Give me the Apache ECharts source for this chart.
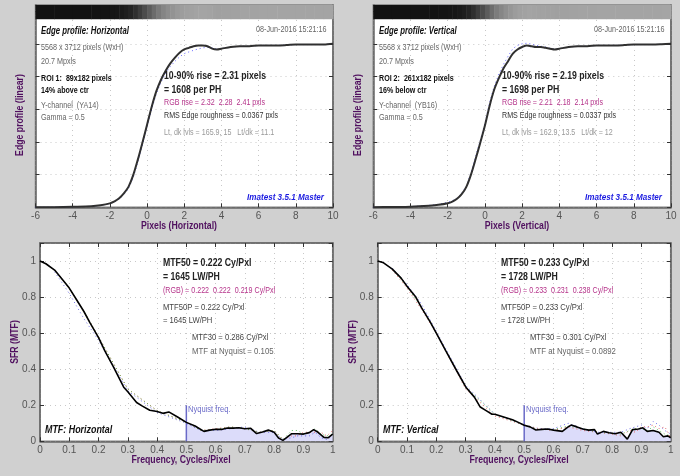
<!DOCTYPE html>
<html>
<head>
<meta charset="utf-8">
<style>html,body{margin:0;padding:0;background:#d0d0d0}#chart{width:680px;height:476px}</style>
<script src="https://cdn.jsdelivr.net/npm/echarts@6/dist/echarts.min.js"></script>
</head>
<body>
<div id="chart"></div>
<script>
// edge profile data
const edgeX = [-6,-5,-4,-3,-2.5,-2,-1.75,-1.5,-1.25,-1,-.75,-.5,-.25,0,.25,.5,.75,1,1.25,1.5,1.75,2,2.25,2.5,2.75,3,3.25,3.5,3.75,4,4.5,5,5.5,6,6.5,7,7.5,8,8.5,9,9.5,10];
const edgeH = [0,.001,.003,.006,.012,.024,.036,.055,.085,.125,.195,.29,.395,.505,.615,.71,.78,.835,.88,.915,.945,.965,.975,.985,.99,.99,.985,.97,.965,.97,.98,.985,.985,.99,.99,.99,.992,.995,.995,.995,.995,1];
const edgeHBlue = [0,.001,.003,.006,.012,.022,.034,.05,.078,.115,.18,.275,.38,.49,.6,.695,.765,.82,.86,.893,.92,.94,.95,.96,.968,.975,.978,.975,.968,.97,.98,.985,.985,.99,.99,.99,.992,.995,.995,.995,.995,1];
const edgeV = [0,.002,.004,.01,.015,.025,.035,.052,.08,.125,.2,.295,.395,.5,.62,.72,.79,.85,.895,.94,.965,.98,.99,.985,.98,.98,.975,.97,.965,.97,.98,.985,.985,.99,.99,.99,.992,.995,.995,.995,.997,1];
const edgeVBlue = [0,.002,.004,.012,.018,.03,.04,.056,.085,.13,.21,.31,.41,.515,.64,.74,.815,.875,.925,.97,.99,1,1.003,.998,.99,.985,.98,.972,.966,.97,.98,.985,.985,.99,.99,.99,.992,.995,.995,.995,.997,1];

// MTF data
const freqH = [0,.02,.05,.08,.1,.125,.15,.17,.2,.222,.25,.286,.3,.33,.35,.375,.4,.42,.44,.47,.5,.53,.56,.58,.6,.62,.64,.66,.68,.7,.72,.74,.76,.78,.8,.815,.83,.85,.86,.88,.9,.92,.935,.95,.97,.985,1];
const mtfH = [1,.985,.95,.89,.85,.785,.72,.66,.575,.5,.415,.3,.275,.215,.195,.172,.165,.155,.163,.135,.105,.085,.055,.062,.067,.066,.074,.073,.075,.07,.072,.043,.052,.062,.05,.018,.005,.03,.042,.042,.04,.048,.065,.05,.022,.02,.04];
const freqV = [0,.02,.05,.08,.1,.13,.15,.18,.2,.233,.27,.301,.33,.35,.37,.39,.4,.43,.46,.48,.5,.52,.54,.56,.58,.6,.63,.65,.66,.68,.7,.72,.74,.75,.77,.79,.81,.83,.852,.87,.89,.905,.92,.94,.96,.975,.99,1];
const mtfV = [1,.99,.955,.905,.86,.8,.74,.66,.6,.5,.39,.3,.245,.19,.17,.15,.15,.135,.12,.105,.089,.08,.063,.066,.068,.062,.055,.08,.09,.08,.068,.062,.065,.04,.055,.047,.042,.05,.012,.065,.068,.075,.055,.06,.05,.025,.03,.02];

// RGB channels of the MTF, drawn as small dots
const dotFreq = [.05,.1,.15,.2,.3,.4,.5,.55,.6,.65,.7,.75,.8,.83,.86,.88,.9,.92,.94,.96,.98,1];
const dotHBlue = [.94,.82,.68,.56,.28,.16,.1,.06,.06,.07,.08,.05,.05,.01,.02,.03,.03,.03,.05,.02,.01,.03];
const dotHRed = [.95,.85,.72,.58,.29,.17,.105,.06,.07,.08,.07,.05,.06,.01,.03,.03,.05,.05,.05,.05,.03,.06];
const dotHGreen = [.95,.85,.72,.58,.29,.17,.105,.06,.065,.08,.07,.05,.06,.01,.06,.06,.04,.05,.07,.04,.03,.04];
const dotVBlue = [.96,.87,.76,.61,.31,.15,.09,.07,.07,.1,.07,.05,.05,.05,.07,.08,.09,.07,.11,.09,.06,.04];
const dotVRed = [.95,.85,.73,.6,.29,.14,.09,.07,.06,.08,.06,.05,.04,.03,.06,.05,.08,.08,.09,.07,.08,.02];
const dotVGreen = [.955,.86,.74,.6,.3,.15,.09,.065,.065,.085,.07,.05,.045,.04,.06,.07,.07,.06,.08,.06,.04,.03];

const nyquist = 0.5;
const nyquistTop = 0.2;

const edgeTicks = { min: -6, max: 10, interval: 2 };
const mtfTicks = { min: 0, max: 1, interval: 0.1 };

// [text, x, y, style]
const topTexts = (title, roi1, roi2, chan, rise, ph, rgb, rms, lvls) => [
  [title, 41, 31, 'title'],
  ['5568 x 3712 pixels (WxH)', 41, 48, 'gray'],
  ['20.7 Mpxls', 41, 62, 'gray'],
  [roi1, 41, 79, 'bold'],
  [roi2, 41, 91, 'bold'],
  [chan, 41, 106, 'gray'],
  ['Gamma = 0.5', 41, 118, 'gray'],
  [rise, 164, 76, 'big'],
  [ph, 164, 90, 'big'],
  [rgb, 164, 103, 'rgb'],
  [rms, 164, 116, 'dark'],
  [lvls, 164, 133, 'light']
];
const bottomTexts = (title, m50, lw, rgb, m50p, lwp, m30, nyq) => [
  [m50, 163, 263, 'big'],
  [lw, 163, 277, 'big'],
  [rgb, 163, 290.5, 'rgb'],
  [m50p, 163, 307.5, 'dark2'],
  [lwp, 163, 321, 'dark2'],
  [m30, 192, 338, 'dark2'],
  [nyq, 192, 352, 'gray2'],
  [title, 45, 430, 'mtfTitle'],
  ['Nyquist freq.', 188, 410, 'nyq']
];

const panelTexts = [
  topTexts('Edge profile: Horizontal', 'ROI 1:  89x182 pixels', '14% above ctr', 'Y-channel  (YA14)', '10-90% rise = 2.31 pixels', '= 1608 per PH', 'RGB rise = 2.32  2.28  2.41 pxls', 'RMS Edge roughness = 0.0367 pxls', 'Lt, dk lvls = 165.9, 15   Lt/dk = 11.1'),
  topTexts('Edge profile: Vertical', 'ROI 2:  261x182 pixels', '16% below ctr', 'Y-channel  (YB16)', '10-90% rise = 2.19 pixels', '= 1698 per PH', 'RGB rise = 2.21  2.18  2.14 pxls', 'RMS Edge roughness = 0.0337 pxls', 'Lt, dk lvls = 162.9, 13.5   Lt/dk = 12'),
  bottomTexts('MTF: Horizontal', 'MTF50 = 0.222 Cy/Pxl', '= 1645 LW/PH', '(RGB) = 0.222  0.222  0.219 Cy/Pxl', 'MTF50P = 0.222 Cy/Pxl', '= 1645 LW/PH', 'MTF30 = 0.286 Cy/Pxl', 'MTF at Nyquist = 0.105'),
  bottomTexts('MTF: Vertical', 'MTF50 = 0.233 Cy/Pxl', '= 1728 LW/PH', '(RGB) = 0.233  0.231  0.238 Cy/Pxl', 'MTF50P = 0.233 Cy/Pxl', '= 1728 LW/PH', 'MTF30 = 0.301 Cy/Pxl', 'MTF at Nyquist = 0.0892')
];

const font = '"Liberation Sans", Arial, sans-serif';
// the source text is narrow and tall, sx squeezes it to the same width
const textStyles = {
  title: { font: 'italic bold 10px ' + font, fill: '#111', sx: .78 },
  mtfTitle: { font: 'italic bold 10px ' + font, fill: '#111', sx: .89 },
  gray: { font: '9px ' + font, fill: '#666', sx: .8 },
  gray2: { font: '9px ' + font, fill: '#666', sx: .87 },
  bold: { font: 'bold 9px ' + font, fill: '#111', sx: .79 },
  big: { font: 'bold 10.5px ' + font, fill: '#222', sx: .83 },
  rgb: { font: '9px ' + font, fill: '#b5338a', sx: .79 },
  dark: { font: '9px ' + font, fill: '#333', sx: .79 },
  dark2: { font: '9px ' + font, fill: '#444', sx: .85 },
  light: { font: '9px ' + font, fill: '#999', sx: .79 },
  nyq: { font: '9px ' + font, fill: '#6a6ac8', sx: .84 }
};

const axisDark = '#666';
const purple = '#50105f';

const grids = [
  { left: 35.5, top: 5, width: 297.5, height: 202.3 },
  { left: 373.3, top: 5, width: 297.7, height: 202.3 },
  { left: 40, top: 243, width: 292.7, height: 198.3 },
  { left: 377.7, top: 243, width: 293, height: 198.3 }
];
const edgeYMax = 1.237;
const stripFrom = 1.15;

const xAxis = [], yAxis = [], series = [], graphic = [];

function pairs(xs, ys) {
  return xs.map((x, i) => [x, ys[i]]);
}

const tick = { inside: true, length: 4, lineStyle: { color: '#333' } };
const line = { show: true, lineStyle: { color: axisDark, width: 1.5 }, onZero: false };

function addAxes(i, ticks, yMax, showYLabels) {
  const splitLine = { show: true, lineStyle: { type: [1, 4], color: '#c8c8c8', width: 1 } };
  xAxis.push({
    type: 'value', gridIndex: i, min: ticks.min, max: ticks.max, interval: ticks.interval,
    axisLine: line, axisTick: tick,
    axisLabel: { color: '#555', fontFamily: font, fontSize: 10, margin: 4, hideOverlap: false },
    splitLine
  });
  yAxis.push({
    type: 'value', gridIndex: i, min: 0, max: yMax, interval: 0.2,
    axisLine: line, axisTick: tick,
    axisLabel: { show: showYLabels, color: '#555', fontFamily: font, fontSize: 10, margin: 4, formatter: v => v > 1 ? '' : String(v) },
    splitLine
  });
  // right side mirror, ticks only
  yAxis.push({
    type: 'value', gridIndex: i, min: 0, max: yMax, interval: 0.2, position: 'right',
    axisLine: line, axisTick: tick,
    axisLabel: { show: false }, splitLine: { show: false }
  });
}

function lineSeries(i, data, color, width, type, z) {
  return {
    type: 'line', xAxisIndex: i, yAxisIndex: i * 2, data, showSymbol: false, silent: true, z,
    lineStyle: { color, width, type }
  };
}

function dotSeries(i, data, color) {
  const s = lineSeries(i, data, color, 1, [1, 3], 3);
  s.lineStyle.opacity = 0.8;
  return s;
}

// the gray strip on top of an edge plot takes its shade from the profile
function stripSeries(i, xs, ys) {
  return {
    type: 'custom', xAxisIndex: i, yAxisIndex: i * 2, silent: true, z: 1,
    data: xs.slice(0, -1).map((x, k) => [x, xs[k + 1], ys[k]]),
    encode: { x: [0, 1], y: 2 },
    renderItem(params, api) {
      const a = api.coord([api.value(0), edgeYMax]);
      const b = api.coord([api.value(1), stripFrom]);
      const g = Math.round(18 + 147 * api.value(2));
      return { type: 'rect', shape: { x: a[0], y: a[1], width: b[0] - a[0] + 0.5, height: b[1] - a[1] }, style: { fill: `rgb(${g},${g},${g})` } };
    }
  };
}

function addEdgePanel(i, ys, blue) {
  addAxes(i, edgeTicks, edgeYMax, false);
  series.push(stripSeries(i, edgeX, ys));
  series.push(dotSeries(i, pairs(edgeX, blue), '#3c3cff'));
  const curve = lineSeries(i, pairs(edgeX, ys), '#303030', 2, 'solid', 4);
  curve.smooth = 0.3;
  series.push(curve);
}

function addMtfPanel(i, freq, mtf, blue, red, green) {
  addAxes(i, mtfTicks, 1.1, true);
  const above = pairs(freq, mtf).filter(p => p[0] >= nyquist);
  const fill = lineSeries(i, above, 'transparent', 0, 'solid', 2);
  fill.areaStyle = { color: '#dcdcfa', opacity: 1 };
  series.push(fill);
  series.push(lineSeries(i, [[nyquist, 0], [nyquist, nyquistTop]], '#6a6ac8', 1.5, 'solid', 3));
  series.push(dotSeries(i, pairs(dotFreq, blue), '#4848e0'));
  series.push(dotSeries(i, pairs(dotFreq, red), '#e04848'));
  series.push(dotSeries(i, pairs(dotFreq, green), '#40b040'));
  series.push(lineSeries(i, pairs(freq, mtf), '#000', 1.6, 'solid', 4));
}

addEdgePanel(0, edgeH, edgeHBlue);
addEdgePanel(1, edgeV, edgeVBlue);
addMtfPanel(2, freqH, mtfH, dotHBlue, dotHRed, dotHGreen);
addMtfPanel(3, freqV, mtfV, dotVBlue, dotVRed, dotVGreen);

// ticks along the top of the MTF plots
[2, 3].forEach(i => {
  xAxis.push({
    type: 'value', gridIndex: i, min: mtfTicks.min, max: mtfTicks.max, interval: mtfTicks.interval, position: 'top',
    axisLine: line, axisTick: tick, axisLabel: { show: false }, splitLine: { show: false }
  });
});

function addText(text, x, y, style) {
  graphic.push({
    type: 'text', z: 10, x, y, scaleX: style.sx,
    style: { text, font: style.font, fill: style.fill, textVerticalAlign: 'middle' }
  });
}

// panel texts, right hand panels sit 338px further
panelTexts.forEach((list, p) => {
  const dx = p % 2 ? 338 : 0;
  list.forEach(t => addText(t[0], t[1] + dx, t[2], textStyles[t[3]]));
});

const stamp = { font: '9px ' + font, fill: '#666', sx: .8 };
const version = { font: 'italic bold 9px ' + font, fill: '#1a1ae0', sx: .9 };
const axisName = { font: 'bold 10.5px ' + font, fill: purple, sx: .83 };

function addCentered(text, x, y, style, rotation) {
  graphic.push({
    type: 'text', z: 10, x, y, rotation: rotation || 0, scaleX: style.sx,
    style: { text, font: style.font, fill: style.fill, textAlign: 'center', textVerticalAlign: 'middle' }
  });
}

[[0, 'Horizontal'], [338, 'Vertical']].forEach(([dx, name]) => {
  graphic.push({ type: 'text', z: 10, x: 326.5 + dx, y: 30, scaleX: stamp.sx, style: { text: '08-Jun-2016 15:21:16', textAlign: 'right', textVerticalAlign: 'middle', font: stamp.font, fill: stamp.fill } });
  graphic.push({ type: 'text', z: 10, x: 324 + dx, y: 198, scaleX: version.sx, style: { text: 'Imatest 3.5.1 Master', textAlign: 'right', textVerticalAlign: 'middle', font: version.font, fill: version.fill } });
  addCentered('Pixels (' + name + ')', 179 + dx, 226.5, axisName);
  addCentered('Edge profile (linear)', 20 + dx, 115, axisName, Math.PI / 2);
  addCentered('Frequency, Cycles/Pixel', 181 + dx, 460, axisName);
  addCentered('SFR (MTF)', 15 + dx, 342, axisName, Math.PI / 2);
});

const chart = echarts.init(document.getElementById('chart'));
chart.setOption({
  animation: false,
  backgroundColor: '#d0d0d0',
  grid: grids.map(g => Object.assign({ show: true, backgroundColor: '#fff', borderColor: '#808080', borderWidth: 1.5, containLabel: false }, g)),
  xAxis, yAxis, series, graphic
});
</script>
</body>
</html>
